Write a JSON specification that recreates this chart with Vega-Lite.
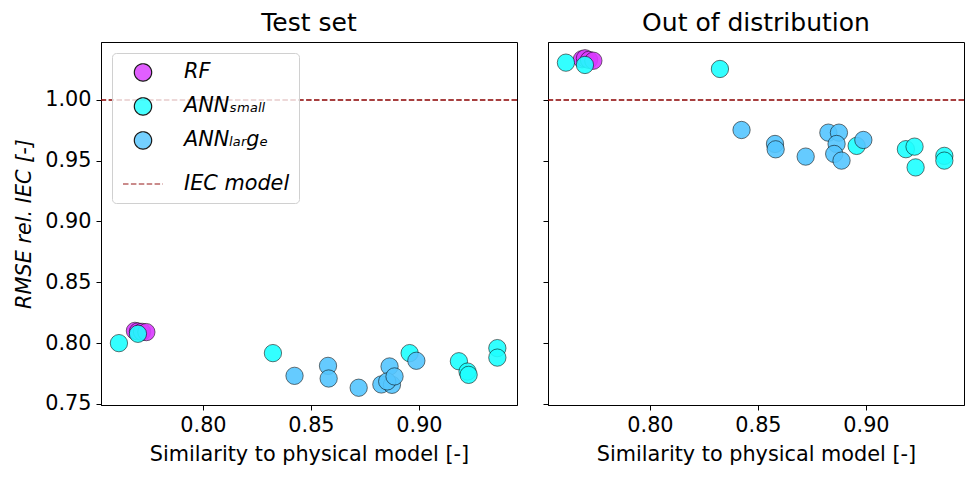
{
  "$schema": "https://vega.github.io/schema/vega-lite/v6.json",
  "description": "RMSE relative to IEC model vs similarity to physical model",
  "padding": {"left": 13, "top": 10, "right": 5, "bottom": 1},
  "spacing": 23,
  "datasets": {
    "models": [
      {"model": "RF", "similarity": 0.7685, "set": "test", "rmse": 0.8100},
      {"model": "RF", "similarity": 0.7699, "set": "test", "rmse": 0.8095},
      {"model": "RF", "similarity": 0.7718, "set": "test", "rmse": 0.8092},
      {"model": "RF", "similarity": 0.7738, "set": "test", "rmse": 0.8090},
      {"model": "RF", "similarity": 0.7685, "set": "ood", "rmse": 1.0335},
      {"model": "RF", "similarity": 0.7699, "set": "ood", "rmse": 1.0343},
      {"model": "RF", "similarity": 0.7718, "set": "ood", "rmse": 1.0330},
      {"model": "RF", "similarity": 0.7738, "set": "ood", "rmse": 1.0323},
      {"model": "ANN_small", "similarity": 0.7611, "set": "test", "rmse": 0.7999},
      {"model": "ANN_small", "similarity": 0.7699, "set": "test", "rmse": 0.8076},
      {"model": "ANN_small", "similarity": 0.8324, "set": "test", "rmse": 0.7917},
      {"model": "ANN_small", "similarity": 0.8957, "set": "test", "rmse": 0.7917},
      {"model": "ANN_small", "similarity": 0.9185, "set": "test", "rmse": 0.7850},
      {"model": "ANN_small", "similarity": 0.9225, "set": "test", "rmse": 0.7765},
      {"model": "ANN_small", "similarity": 0.9230, "set": "test", "rmse": 0.7738},
      {"model": "ANN_small", "similarity": 0.9363, "set": "test", "rmse": 0.7958},
      {"model": "ANN_small", "similarity": 0.9363, "set": "test", "rmse": 0.7880},
      {"model": "ANN_small", "similarity": 0.7611, "set": "ood", "rmse": 1.0307},
      {"model": "ANN_small", "similarity": 0.7699, "set": "ood", "rmse": 1.0288},
      {"model": "ANN_small", "similarity": 0.8324, "set": "ood", "rmse": 1.0255},
      {"model": "ANN_small", "similarity": 0.8957, "set": "ood", "rmse": 0.9622},
      {"model": "ANN_small", "similarity": 0.9185, "set": "ood", "rmse": 0.9595},
      {"model": "ANN_small", "similarity": 0.9225, "set": "ood", "rmse": 0.9616},
      {"model": "ANN_small", "similarity": 0.9230, "set": "ood", "rmse": 0.9445},
      {"model": "ANN_small", "similarity": 0.9363, "set": "ood", "rmse": 0.9540},
      {"model": "ANN_small", "similarity": 0.9363, "set": "ood", "rmse": 0.9501},
      {"model": "ANN_large", "similarity": 0.8424, "set": "test", "rmse": 0.7730},
      {"model": "ANN_large", "similarity": 0.8579, "set": "test", "rmse": 0.7812},
      {"model": "ANN_large", "similarity": 0.8582, "set": "test", "rmse": 0.7708},
      {"model": "ANN_large", "similarity": 0.8721, "set": "test", "rmse": 0.7632},
      {"model": "ANN_large", "similarity": 0.8826, "set": "test", "rmse": 0.7659},
      {"model": "ANN_large", "similarity": 0.8875, "set": "test", "rmse": 0.7656},
      {"model": "ANN_large", "similarity": 0.8864, "set": "test", "rmse": 0.7807},
      {"model": "ANN_large", "similarity": 0.8853, "set": "test", "rmse": 0.7684},
      {"model": "ANN_large", "similarity": 0.8887, "set": "test", "rmse": 0.7725},
      {"model": "ANN_large", "similarity": 0.8988, "set": "test", "rmse": 0.7854},
      {"model": "ANN_large", "similarity": 0.8424, "set": "ood", "rmse": 0.9753},
      {"model": "ANN_large", "similarity": 0.8579, "set": "ood", "rmse": 0.9638},
      {"model": "ANN_large", "similarity": 0.8582, "set": "ood", "rmse": 0.9594},
      {"model": "ANN_large", "similarity": 0.8721, "set": "ood", "rmse": 0.9534},
      {"model": "ANN_large", "similarity": 0.8826, "set": "ood", "rmse": 0.9731},
      {"model": "ANN_large", "similarity": 0.8875, "set": "ood", "rmse": 0.9731},
      {"model": "ANN_large", "similarity": 0.8864, "set": "ood", "rmse": 0.9638},
      {"model": "ANN_large", "similarity": 0.8853, "set": "ood", "rmse": 0.9556},
      {"model": "ANN_large", "similarity": 0.8887, "set": "ood", "rmse": 0.9501},
      {"model": "ANN_large", "similarity": 0.8988, "set": "ood", "rmse": 0.9671}
    ],
    "reference": [{"model": "IEC model", "rmse": 1.0}]
  },
  "hconcat": [
    {
      "title": "Test set",
      "width": 416,
      "height": 363,
      "layer": [
        {
          "data": {"name": "reference"},
          "mark": {"type": "rule", "strokeWidth": 1.5},
          "encoding": {
            "y": {"field": "rmse", "type": "quantitative"},
            "color": {"field": "model", "type": "nominal", "title": null,
                      "scale": {"domain": ["RF", "ANN_small", "ANN_large", "IEC model"], "range": ["#da3bff", "#1effff", "#55c6ff", "#8b0000"]}},
            "stroke": {"field": "model", "type": "nominal", "title": null,
                       "scale": {"domain": ["RF", "ANN_small", "ANN_large", "IEC model"], "range": ["black", "black", "black", "#8b0000"]}},
            "strokeDash": {"field": "model", "type": "nominal", "title": null,
                           "scale": {"domain": ["RF", "ANN_small", "ANN_large", "IEC model"], "range": [[1, 0], [1, 0], [1, 0], [5.5, 2.4]]}}
          }
        },
        {
          "data": {"name": "models"},
          "transform": [{"filter": "datum.set == 'test'"}],
          "mark": {"type": "point", "filled": true, "opacity": 0.9, "strokeWidth": 0.6},
          "encoding": {
            "x": {"field": "similarity", "type": "quantitative", "scale": {"domain": [0.7528, 0.9454], "nice": false, "zero": false},
                  "axis": {"values": [0.8, 0.85, 0.9], "format": ".2f"}, "title": "Similarity to physical model [-]"},
            "y": {"field": "rmse", "type": "quantitative", "scale": {"domain": [0.749, 1.0477], "nice": false, "zero": false},
                  "axis": {"values": [0.75, 0.8, 0.85, 0.9, 0.95, 1.0], "format": ".2f", "titleFontStyle": "italic"}, "title": "RMSE rel. IEC [-]"},
            "color": {
              "field": "model", "type": "nominal", "title": null,
              "scale": {"domain": ["RF", "ANN_small", "ANN_large", "IEC model"], "range": ["#da3bff", "#1effff", "#55c6ff", "#8b0000"]},
              "legend": {
                "orient": "top-left", "offset": 11, "padding": 9, "cornerRadius": 4,
                "strokeColor": "#d0d0d0", "fillColor": "rgba(255,255,255,0.8)",
                "symbolOffset": 1, "symbolStrokeWidth": 1.2,
                "labelFontSize": 20.8, "labelFontStyle": "italic",
                "rowPadding": 11, "labelOffset": 20,
                "labelExpr": "datum.value == 'ANN_small' ? 'ANNₛₘₐₗₗ' : datum.value == 'ANN_large' ? 'ANNₗₐᵣgₑ' : datum.value"
              }
            },
            "size": {"field": "model", "type": "nominal", "title": null,
                     "scale": {"type": "ordinal", "domain": ["RF", "ANN_small", "ANN_large", "IEC model"], "range": [300, 300, 300, 1600]}},
            "stroke": {"field": "model", "type": "nominal", "title": null,
                       "scale": {"domain": ["RF", "ANN_small", "ANN_large", "IEC model"], "range": ["black", "black", "black", "#8b0000"]}},
            "shape": {"field": "model", "type": "nominal", "title": null,
                      "scale": {"domain": ["RF", "ANN_small", "ANN_large", "IEC model"], "range": ["circle", "circle", "circle", "stroke"]}}
          }
        }
      ]
    },
    {
      "title": "Out of distribution",
      "width": 416,
      "height": 363,
      "layer": [
        {
          "data": {"name": "reference"},
          "mark": {"type": "rule", "color": "#8b0000", "strokeDash": [5.5, 2.4], "strokeWidth": 1.5},
          "encoding": {"y": {"field": "rmse", "type": "quantitative"}}
        },
        {
          "data": {"name": "models"},
          "transform": [{"filter": "datum.set == 'ood'"}],
          "mark": {"type": "point", "shape": "circle", "filled": true, "opacity": 0.9, "stroke": "black", "strokeWidth": 0.6, "size": 300},
          "encoding": {
            "x": {"field": "similarity", "type": "quantitative", "scale": {"domain": [0.7528, 0.9454], "nice": false, "zero": false},
                  "axis": {"values": [0.8, 0.85, 0.9], "format": ".2f"}, "title": "Similarity to physical model [-]"},
            "y": {"field": "rmse", "type": "quantitative", "scale": {"domain": [0.749, 1.0477], "nice": false, "zero": false},
                  "axis": {"values": [0.75, 0.8, 0.85, 0.9, 0.95, 1.0], "labels": false}, "title": null},
            "color": {
              "field": "model", "type": "nominal", "legend": null,
              "scale": {"domain": ["RF", "ANN_small", "ANN_large", "IEC model"], "range": ["#da3bff", "#1effff", "#55c6ff", "#8b0000"]}
            }
          }
        }
      ]
    }
  ],
  "resolve": {
    "scale": {"color": "independent", "stroke": "independent", "shape": "independent", "strokeDash": "independent", "size": "independent", "y": "independent", "x": "independent"},
    "legend": {"color": "independent", "stroke": "independent", "shape": "independent", "strokeDash": "independent", "size": "independent"}
  },
  "config": {
    "font": "DejaVu Sans",
    "background": "white",
    "view": {"stroke": "black", "strokeWidth": 1},
    "title": {"fontSize": 25, "fontWeight": "normal", "color": "black", "offset": 6},
    "axis": {
      "grid": false, "domainColor": "black", "tickColor": "black", "tickSize": 5,
      "labelFontSize": 20.8, "labelColor": "black", "labelPadding": 5,
      "titleFontSize": 20.8, "titleFontWeight": "normal", "titleColor": "black", "titlePadding": 10
    },
    "legend": {"labelColor": "black", "labelFont": "DejaVu Sans"}
  }
}
